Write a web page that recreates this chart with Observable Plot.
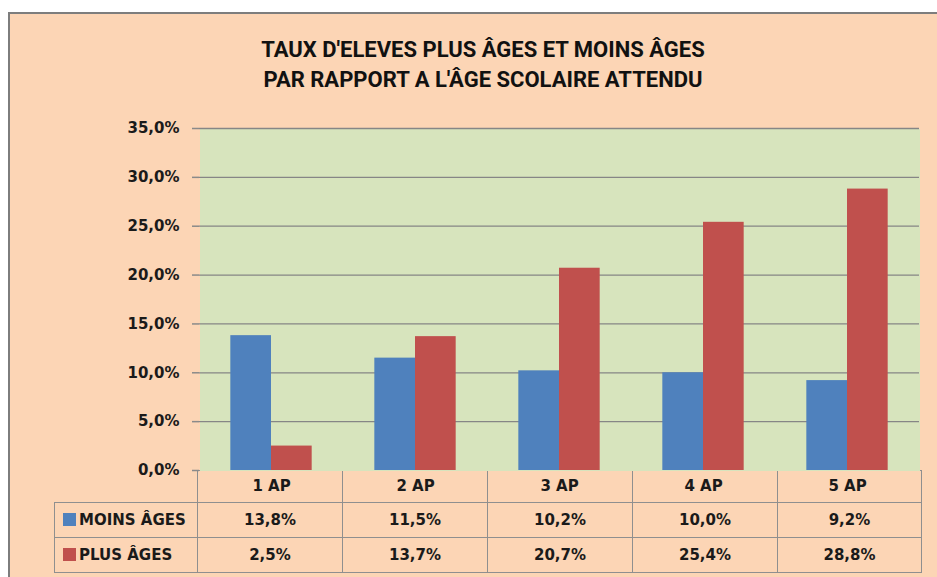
<!DOCTYPE html>
<html>
<head>
<meta charset="utf-8">
<script src="https://cdn.jsdelivr.net/npm/d3@7"></script>
<script src="https://cdn.jsdelivr.net/npm/@observablehq/plot@0.6"></script>
<style>
  html, body { margin: 0; padding: 0; background: #ffffff; width: 937px; height: 577px; overflow: hidden; }
  #frame { position: absolute; left: 8px; top: 12px; width: 940px; height: 580px; background: #FCD5B5;
           border-left: 2px solid #7d7d7d; border-top: 2px solid #7d7d7d; box-sizing: border-box; }
  #title { position: absolute; left: 0; top: 35px; width: 966px; text-align: center;
           font-family: "Liberation Sans Narrow", "Arial Narrow", "Roboto", sans-serif; font-weight: bold;
           font-size: 22px; line-height: 30px; color: #111; }
  #chart { position: absolute; left: 0; top: 100px; z-index: 2; }
  #table { position: absolute; left: 54px; top: 470px; border-collapse: collapse; table-layout: fixed; z-index: 1;
           font-family: "DejaVu Sans", sans-serif; font-weight: bold; font-size: 15px; color: #1a1a1a; }
  #table td { border: 1.5px solid #8f8f8f; text-align: center; padding: 0; white-space: nowrap; }
  #table td.blank { border-top: none; border-left: none; }
  #table td.leg { text-align: left; padding-left: 8px; }
  .sw { display: inline-block; width: 13px; height: 13px; margin-right: 3px; vertical-align: -1px; }
</style>
</head>
<body>
<div id="frame"></div>
<div id="title">TAUX D'ELEVES PLUS ÂGES ET MOINS ÂGES<br>PAR RAPPORT A L'ÂGE SCOLAIRE ATTENDU</div>
<div id="chart"></div>
<table id="table"></table>
<script>
const categories = ["1 AP", "2 AP", "3 AP", "4 AP", "5 AP"];
const series = ["MOINS ÂGES", "PLUS ÂGES"];
const moinsAges = [13.8, 11.5, 10.2, 10.0, 9.2];
const plusAges = [2.5, 13.7, 20.7, 25.4, 28.8];
const yTicks = [0, 5, 10, 15, 20, 25, 30, 35];
const seriesColors = ["#4F81BD", "#C0504D"];

const fmt = v => v.toFixed(1).replace(".", ",") + "%";

const rows = [];
categories.forEach((c, i) => {
  rows.push({cat: c, series: series[0], value: moinsAges[i]});
  rows.push({cat: c, series: series[1], value: plusAges[i]});
});

const plot = Plot.plot({
  width: 937,
  height: 402,
  marginLeft: 197,
  marginRight: 16,
  marginTop: 28,
  marginBottom: 32,
  style: {background: "transparent", fontFamily: "DejaVu Sans, sans-serif", fontWeight: "bold", fontSize: "15px", color: "#1a1a1a"},
  fx: {domain: categories, padding: 0, label: null},
  x: {domain: series, paddingInner: 0, paddingOuter: 0.77, round: false, axis: null},
  y: {domain: [0, 35]},
  color: {domain: series, range: seriesColors},
  marks: [
    Plot.frame({fill: "#D7E4BD", stroke: "none", shapeRendering: "crispEdges"}),
    Plot.ruleY(yTicks.filter(d => d > 0), {stroke: "#868686", strokeWidth: 1.3}),
    Plot.barY(rows, {fx: "cat", x: "series", y: "value", fill: "series"}),
    Plot.axisY({ticks: yTicks, tickFormat: fmt, tickSize: 7, tickPadding: 13, line: true, stroke: "#8a8a8a", strokeWidth: 1.5, label: null}),
    Plot.axisFx({anchor: "bottom", tickSize: 0, tickPadding: 10, label: null})
  ]
});
document.getElementById("chart").appendChild(plot);

// Data table below the chart
const table = document.getElementById("table");
const colgroup = document.createElement("colgroup");
[143, 145, 145, 145, 145, 144].forEach(w => {
  const col = document.createElement("col");
  col.style.width = w + "px";
  colgroup.appendChild(col);
});
table.appendChild(colgroup);

const head = document.createElement("tr");
head.style.height = "32px";
const blank = document.createElement("td");
blank.className = "blank";
head.appendChild(blank);
categories.forEach(() => head.appendChild(document.createElement("td")));
table.appendChild(head);

[moinsAges, plusAges].forEach((vals, si) => {
  const tr = document.createElement("tr");
  tr.style.height = "35px";
  const lg = document.createElement("td");
  lg.className = "leg";
  const sw = document.createElement("span");
  sw.className = "sw";
  sw.style.background = seriesColors[si];
  lg.appendChild(sw);
  lg.appendChild(document.createTextNode(series[si]));
  tr.appendChild(lg);
  vals.forEach(v => {
    const td = document.createElement("td");
    td.textContent = fmt(v);
    tr.appendChild(td);
  });
  table.appendChild(tr);
});
</script>
</body>
</html>
